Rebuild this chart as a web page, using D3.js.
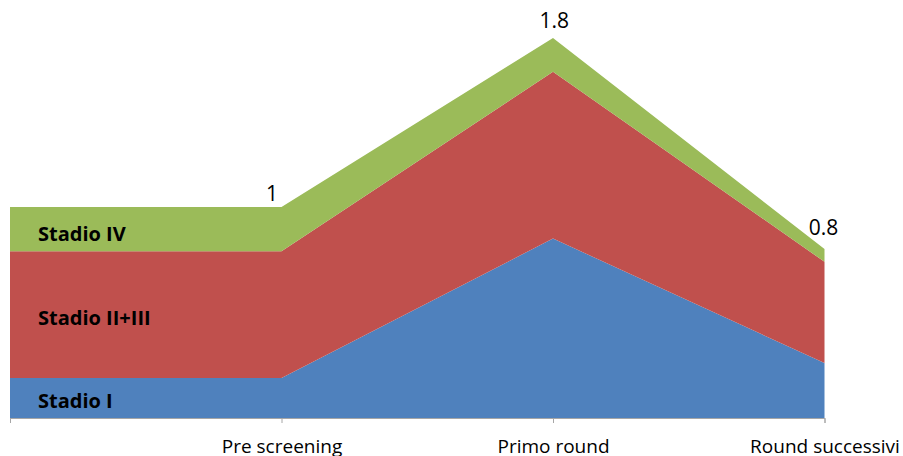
<!DOCTYPE html>
<html>
<head>
<meta charset="utf-8">
<script src="https://cdn.jsdelivr.net/npm/d3@7"></script>
<style>
  html, body { margin: 0; padding: 0; background: #fff; }
  svg { display: block; }
  text { font-family: "Open Sans", "Liberation Sans", sans-serif; }
</style>
</head>
<body>
<svg id="chart" width="903" height="456"></svg>
<script>
// Categories along the x axis (the first point has no label)
const categories = ["", "Pre screening", "Primo round", "Round successivi"];

// Stacked series, bottom to top
const seriesNames = ["Stadio I", "Stadio II+III", "Stadio IV"];
const stadioI     = [0.19, 0.19, 0.85, 0.26];
const stadioIIIII = [0.60, 0.60, 0.79, 0.48];
const stadioIV    = [0.21, 0.21, 0.16, 0.06];

const colors = ["#4f81bd", "#c0504d", "#9bbb59"];

const svg = d3.select("#chart");

const rows = categories.map((c, i) => ({
  cat: c,
  s0: stadioI[i],
  s1: stadioIIIII[i],
  s2: stadioIV[i]
}));

const stack = d3.stack().keys(["s0", "s1", "s2"]);
const layers = stack(rows);

const x = d3.scalePoint().domain(categories).range([10, 824.5]);
const y = d3.scaleLinear().domain([0, 2]).range([418, 418 - 2 * 211.1]);

const area = d3.area()
  .x(d => x(d.data.cat))
  .y0(d => y(d[0]))
  .y1(d => y(d[1]));

svg.append("g")
  .selectAll("path")
  .data(layers)
  .join("path")
  .attr("d", area)
  .attr("fill", (d, i) => colors[i]);

// Category axis along the bottom
const axis = d3.axisBottom(x).tickSize(5).tickPadding(16.5);
const gx = svg.append("g")
  .attr("transform", `translate(0,${y(0)})`)
  .call(axis);
gx.select(".domain").attr("stroke", "#a6a6a6").attr("stroke-width", 1);
gx.selectAll(".tick line").attr("stroke", "#a6a6a6");
gx.selectAll(".tick text")
  .attr("font-size", 19)
  .attr("fill", "#000")
  .attr("font-family", "\"Open Sans\", sans-serif");

// Series names inside the first segment of each band
svg.append("g")
  .selectAll("text")
  .data(layers)
  .join("text")
  .attr("x", 38)
  .attr("y", (d, i) => (y(d[0][0]) + y(d[0][1])) / 2 + (i === 2 ? 12 : 10))
  .attr("font-size", 20)
  .attr("font-weight", "bold")
  .attr("fill", "#000")
  .text((d, i) => seriesNames[i]);

// Totals above the stack at each named category
const totalNudge = [[0, 0], [-9.5, -5.5], [1.3, -10.5], [-1, -14]];
const fmt = v => String(+v.toFixed(1));
svg.append("g")
  .selectAll("text")
  .data(rows.map((r, i) => ({ r, i, total: r.s0 + r.s1 + r.s2 })).filter(d => d.r.cat !== ""))
  .join("text")
  .attr("x", d => x(d.r.cat) + totalNudge[d.i][0])
  .attr("y", d => y(d.total) + totalNudge[d.i][1])
  .attr("text-anchor", "middle")
  .attr("font-size", 21)
  .attr("fill", "#000")
  .text(d => fmt(d.total));
</script>
</body>
</html>
